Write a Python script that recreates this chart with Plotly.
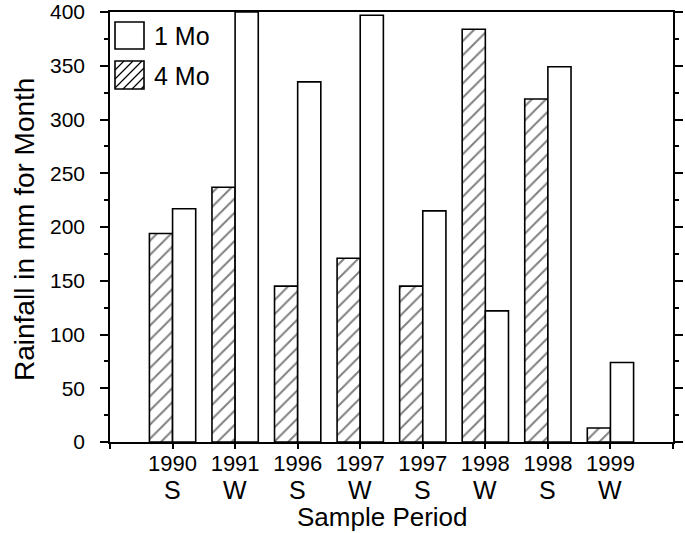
import plotly.graph_objects as go

# ---- data ----
years = ["1990", "1991", "1996", "1997", "1997", "1998", "1998", "1999"]
seasons = ["S", "W", "S", "W", "S", "W", "S", "W"]
rain_4mo = [194, 237, 145, 171, 145, 384, 319, 13]
rain_1mo = [217, 400, 335, 397, 215, 122, 349, 74]
y_ticks = [0, 50, 100, 150, 200, 250, 300, 350, 400]
legend_names = ["1 Mo", "4 Mo"]

FONT = "Liberation Sans, Arial, Helvetica, sans-serif"
W, H = 685, 533
L, R, T, B = 110, 12, 12, 91

positions = list(range(1, len(years) + 1))
ticktext = [""] + years + [""]
tickvals = [0] + positions + [len(years) + 1]

fig = go.Figure()
fig.add_trace(go.Bar(
    x=positions, y=rain_4mo, name=legend_names[1],
    marker=dict(color="white", line=dict(color="black", width=1.6),
                pattern=dict(shape="/", fgcolor="black", bgcolor="white", size=10, solidity=0.2)),
    showlegend=False,
))
fig.add_trace(go.Bar(
    x=positions, y=rain_1mo, name=legend_names[0],
    marker=dict(color="white", line=dict(color="black", width=1.6)),
    showlegend=False,
))

# pixel -> paper helpers (plot area)
pw, ph = W - L - R, H - T - B
def px(xp):
    return (xp - L) / pw
def py(yp):
    return (H - B - yp) / ph

shapes = []
# legend box: white
shapes.append(dict(type="rect", xref="paper", yref="paper",
                   x0=px(115), x1=px(144), y0=py(49), y1=py(22),
                   line=dict(color="black", width=1.6), fillcolor="white"))
# legend box: hatched
hx0, hx1, hy0, hy1 = 115, 144, 61, 89
path = ""
step = 9
d = hx0 + hy0 + step
while d < hx1 + hy1:
    xa = max(hx0, d - hy1)
    xb = min(hx1, d - hy0)
    if xb > xa:
        path += f"M{px(xa)},{py(d - xa)} L{px(xb)},{py(d - xb)} "
    d += step
shapes.append(dict(type="path", xref="paper", yref="paper", path=path,
                   line=dict(color="black", width=1.2)))
shapes.append(dict(type="rect", xref="paper", yref="paper",
                   x0=px(hx0), x1=px(hx1), y0=py(hy1), y1=py(hy0),
                   line=dict(color="black", width=1.6)))

annotations = [
    dict(text=legend_names[0], xref="paper", yref="paper", x=px(152), y=py(36),
         xanchor="left", yanchor="middle", showarrow=False, font=dict(size=25, color="black", family=FONT)),
    dict(text=legend_names[1], xref="paper", yref="paper", x=px(152), y=py(76),
         xanchor="left", yanchor="middle", showarrow=False, font=dict(size=25, color="black", family=FONT)),
    dict(text="Rainfall in mm for Month", xref="paper", yref="paper", x=px(25), y=py(230),
         xanchor="center", yanchor="middle", textangle=-90, showarrow=False,
         font=dict(size=28, color="black", family=FONT)),
    dict(text="Sample Period", xref="paper", yref="paper", x=px(382), y=py(517),
         xanchor="center", yanchor="middle", showarrow=False, borderpad=0,
         font=dict(size=26, color="black", family=FONT)),
]
# season labels under each year (second line of the category label)
for pos, s in zip(positions, seasons):
    annotations.append(dict(text=s, xref="x", yref="paper", x=pos, y=py(490),
                            xanchor="center", yanchor="middle", showarrow=False, borderpad=0,
                            font=dict(size=25, color="black", family=FONT)))

fig.update_layout(
    width=W, height=H,
    margin=dict(l=L, r=R, t=T, b=B, pad=0, autoexpand=False),
    paper_bgcolor="white", plot_bgcolor="white",
    barmode="group", bargap=0.26, bargroupgap=0,
    font=dict(family=FONT, color="black"),
    shapes=shapes, annotations=annotations,
    showlegend=False,
)
fig.update_xaxes(
    range=[0, len(years) + 1], tickmode="array", tickvals=tickvals, ticktext=ticktext,
    ticks="outside", ticklen=5, tickwidth=1.5, tickcolor="black",
    showline=True, linecolor="black", linewidth=1.6, mirror=True,
    showgrid=False, zeroline=False, automargin=False,
    tickfont=dict(size=22, family=FONT, color="black"),
    ticklabelstandoff=-4,
)
fig.update_yaxes(
    range=[0, 400], tickmode="array", tickvals=y_ticks,
    ticks="outside", ticklen=8, tickwidth=1.5, tickcolor="black",
    minor=dict(dtick=25, tick0=0, ticks="outside", ticklen=4, tickwidth=1.5, tickcolor="black"),
    showline=True, linecolor="black", linewidth=1.6, mirror="allticks",
    showgrid=False, zeroline=False, automargin=False,
    tickfont=dict(size=21, family=FONT, color="black"),
    ticklabelstandoff=11,
)

fig.write_html("out.html", config={"displayModeBar": False},
               post_script="document.body.style.margin='0';document.body.style.padding='0';")
